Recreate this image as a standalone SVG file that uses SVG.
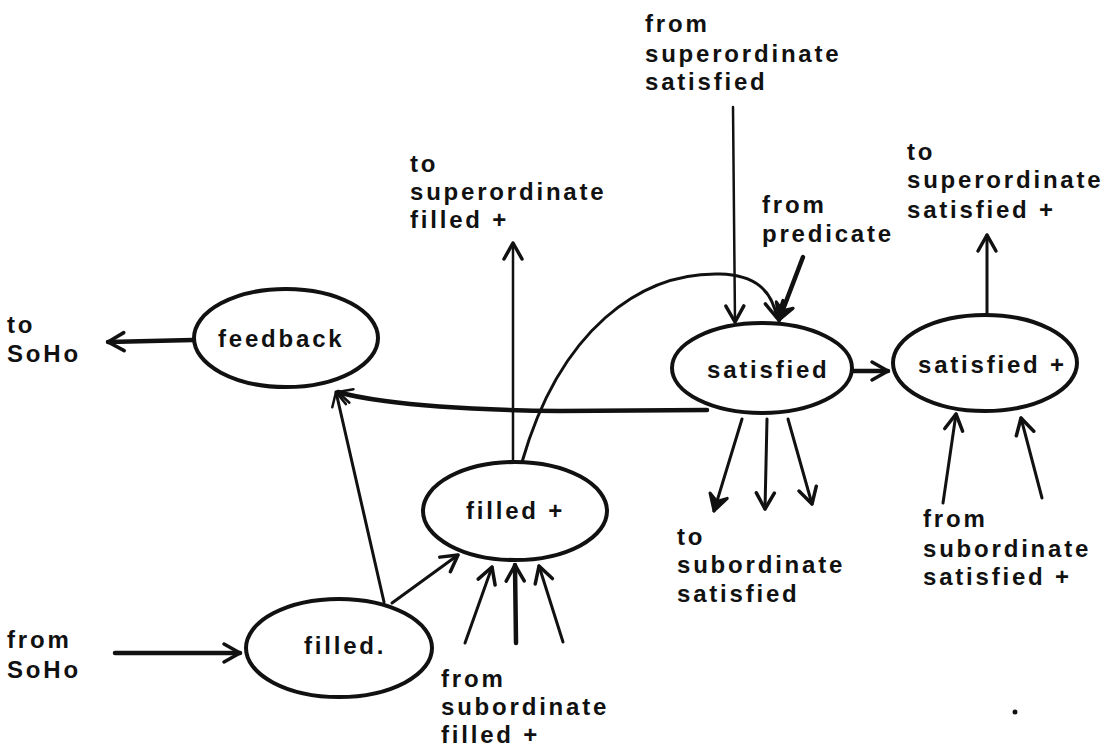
<svg xmlns="http://www.w3.org/2000/svg" width="1118" height="749" viewBox="0 0 1118 749">
  <style>
    text { font-family: "Liberation Sans", Arial, sans-serif; font-weight: 700; font-size: 24px; letter-spacing: 2.8px; fill: #111; }
    .node ellipse { fill: #fff; stroke: #111; stroke-width: 4; }
    .edge { fill: none; stroke: #111; stroke-width: 3; stroke-linecap: round; stroke-linejoin: round; }
    .thin { stroke-width: 2.5; }
    .bold { stroke-width: 4.5; }
  </style>
  <defs>
    <marker id="head" markerUnits="userSpaceOnUse" markerWidth="30" markerHeight="30" viewBox="-20 -15 30 30" refX="0" refY="0" orient="auto">
      <path d="M-16,-9 L0,0 L-16,9" fill="none" stroke="#111" stroke-width="3.5" stroke-linecap="round" stroke-linejoin="round"/>
    </marker>
    <marker id="headSmall" markerUnits="userSpaceOnUse" markerWidth="30" markerHeight="30" viewBox="-20 -15 30 30" refX="0" refY="0" orient="auto">
      <path d="M-14,-7 L0,0 L-14,7" fill="none" stroke="#111" stroke-width="2.5" stroke-linecap="round" stroke-linejoin="round"/>
    </marker>
    <marker id="headSolid" markerUnits="userSpaceOnUse" markerWidth="30" markerHeight="30" viewBox="-20 -15 30 30" refX="0" refY="0" orient="auto">
      <path d="M-16,-9 L0,0 L-16,9 L-10,0 Z" fill="#111" stroke="#111" stroke-width="3" stroke-linejoin="round"/>
    </marker>
  </defs>

  <rect width="1118" height="749" fill="#fff"/>

  <!-- connectors -->
  <g id="connectors">
    <!-- feedback to SoHo -->
    <path class="edge bold" d="M193,340 L108,342" marker-end="url(#head)"/>
    <!-- from SoHo into filled -->
    <path class="edge bold" d="M115,653 L240,653" marker-end="url(#head)"/>
    <!-- filled to feedback -->
    <path class="edge" d="M384,602 L336,392" marker-end="url(#headSmall)"/>
    <!-- satisfied back to feedback -->
    <path class="edge bold" d="M707,410 L560,411 C480,410 420,406 385,401 C362,398 348,395 338,392" marker-end="url(#headSmall)"/>
    <!-- filled to filled + -->
    <path class="edge" d="M392,603 L458,555" marker-end="url(#head)"/>
    <!-- subordinate filled + into filled + -->
    <path class="edge" d="M465,643 L492,567" marker-end="url(#head)"/>
    <path class="edge bold" d="M516,643 L515,565" marker-end="url(#head)"/>
    <path class="edge" d="M563,642 L539,566" marker-end="url(#head)"/>
    <!-- filled + to superordinate filled + -->
    <path class="edge thin" d="M513,462 L513,243" marker-end="url(#head)"/>
    <!-- filled + over to satisfied -->
    <path class="edge" d="M522,462 C560,330 640,272 720,274 C755,275 772,290 777,318" marker-end="url(#head)"/>
    <!-- superordinate satisfied into satisfied -->
    <path class="edge thin" d="M733,107 L735,322" marker-end="url(#head)"/>
    <!-- predicate into satisfied -->
    <path class="edge bold" d="M803,257 L779,320" marker-end="url(#headSolid)"/>
    <!-- satisfied to satisfied + -->
    <path class="edge bold" d="M854,371 L888,371" marker-end="url(#head)"/>
    <!-- satisfied + to superordinate satisfied + -->
    <path class="edge" d="M987,315 L987,235" marker-end="url(#head)"/>
    <!-- satisfied to subordinate satisfied -->
    <path class="edge" d="M742,419 L714,511" marker-end="url(#headSolid)"/>
    <path class="edge" d="M767,419 L765,509" marker-end="url(#head)"/>
    <path class="edge" d="M788,419 L812,504" marker-end="url(#head)"/>
    <!-- subordinate satisfied + into satisfied + -->
    <path class="edge" d="M943,503 L956,414" marker-end="url(#head)"/>
    <path class="edge" d="M1042,498 L1021,418" marker-end="url(#head)"/>
  </g>

  <!-- nodes -->
  <g id="node-feedback" class="node">
    <ellipse cx="286" cy="338" rx="92" ry="49"/>
    <text x="218" y="347">feedback</text>
  </g>
  <g id="node-filled" class="node">
    <ellipse cx="339" cy="648" rx="93" ry="49"/>
    <text x="304" y="654">filled.</text>
  </g>
  <g id="node-filled-plus" class="node">
    <ellipse cx="515" cy="511" rx="92" ry="49"/>
    <text x="466" y="519">filled +</text>
  </g>
  <g id="node-satisfied" class="node">
    <ellipse cx="762" cy="368" rx="90" ry="45"/>
    <text x="707" y="378">satisfied</text>
  </g>
  <g id="node-satisfied-plus" class="node">
    <ellipse cx="985" cy="363" rx="92" ry="48"/>
    <text x="918" y="373">satisfied +</text>
  </g>

  <!-- endpoint labels, one line per text -->
  <g id="labels">
    <text x="7" y="333">to</text>
    <text x="7" y="362">SoHo</text>

    <text x="7" y="648">from</text>
    <text x="7" y="678">SoHo</text>

    <text x="410" y="172">to</text>
    <text x="410" y="200">superordinate</text>
    <text x="410" y="228">filled +</text>

    <text x="645" y="32">from</text>
    <text x="645" y="62">superordinate</text>
    <text x="645" y="90">satisfied</text>

    <text x="762" y="213">from</text>
    <text x="762" y="242">predicate</text>

    <text x="907" y="160">to</text>
    <text x="907" y="188">superordinate</text>
    <text x="907" y="218">satisfied +</text>

    <text x="677" y="545">to</text>
    <text x="677" y="573">subordinate</text>
    <text x="677" y="602">satisfied</text>

    <text x="923" y="527">from</text>
    <text x="923" y="557">subordinate</text>
    <text x="923" y="585">satisfied +</text>

    <text x="441" y="687">from</text>
    <text x="441" y="715">subordinate</text>
    <text x="441" y="743">filled +</text>
  </g>

  <!-- stray ink dot -->
  <circle cx="1015" cy="712" r="2.5" fill="#111"/>
</svg>
